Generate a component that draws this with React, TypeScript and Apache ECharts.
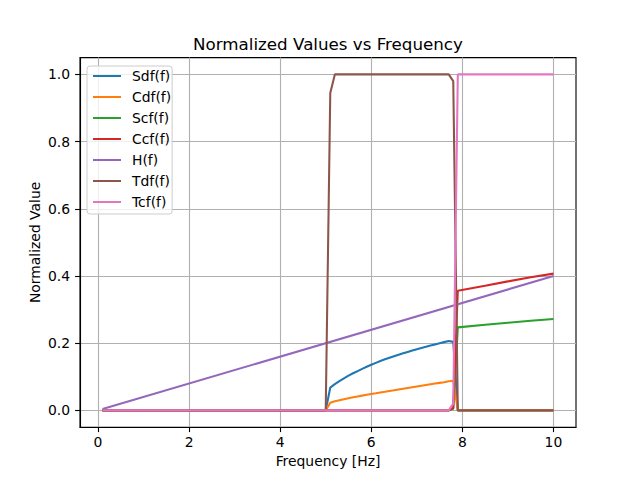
import React, { useEffect, useRef } from "react";
import * as echarts from "echarts";

const FONT = "DejaVu Sans";

const xTicks = [0, 2, 4, 6, 8, 10];
const yTicks = [0, 0.2, 0.4, 0.6, 0.8, 1.0];

const seriesNames = ["Sdf(f)", "Cdf(f)", "Scf(f)", "Ccf(f)", "H(f)", "Tdf(f)", "Tcf(f)"];
const seriesColors = ["#1f77b4", "#ff7f0e", "#2ca02c", "#d62728", "#9467bd", "#8c564b", "#e377c2"];

// frequencies of the curved part (5.1 .. 7.8 Hz)
const midFreq = [
  5.1, 5.2, 5.3, 5.4, 5.5, 5.6, 5.7, 5.8, 5.9, 6.0, 6.1, 6.2, 6.3, 6.4,
  6.5, 6.6, 6.7, 6.8, 6.9, 7.0, 7.1, 7.2, 7.3, 7.4, 7.5, 7.6, 7.7, 7.8,
];

const sdfFreq = [0.1, 5.0, ...midFreq, 7.9, 10.0];
const sdfVals = [
  0, 0,
  0.068, 0.078, 0.087, 0.0955, 0.1035, 0.1105, 0.117, 0.1235, 0.1298, 0.1358, 0.1415, 0.147, 0.152, 0.1568,
  0.1614, 0.1658, 0.17, 0.174, 0.178, 0.1818, 0.1856, 0.1893, 0.1929, 0.1964, 0.1998, 0.2032, 0.2065, 0.204,
  0, 0,
];

const cdfFreq = [0.1, 5.0, ...midFreq, 7.9, 10.0];
const cdfVals = [
  0, 0,
  0.023, 0.027, 0.03, 0.033, 0.036, 0.039, 0.0415, 0.044, 0.0465, 0.049, 0.0512, 0.0535, 0.0557, 0.058,
  0.06, 0.0623, 0.0646, 0.0668, 0.069, 0.0712, 0.0734, 0.0756, 0.0778, 0.08, 0.082, 0.084, 0.0865, 0.088,
  0, 0,
];

const scfFreq = [0.1, 7.7, 7.8, 7.9, 8.5, 9.0, 9.5, 10.0];
const scfVals = [0, 0, 0.005, 0.247, 0.255, 0.261, 0.267, 0.272];

const ccfFreq = [0.1, 7.7, 7.8, 7.9, 8.5, 9.0, 9.5, 10.0];
const ccfVals = [0, 0, 0.007, 0.356, 0.371, 0.384, 0.396, 0.407];

const hFreq = [0.1, 10.0];
const hVals = [0.004, 0.4];

const tdfFreq = [0.1, 5.0, 5.1, 5.2, 7.7, 7.8, 7.9, 10.0];
const tdfVals = [0, 0, 0.945, 1.0, 1.0, 0.98, 0, 0];

const tcfFreq = [0.1, 7.7, 7.8, 7.9, 10.0];
const tcfVals = [0, 0, 0.02, 1.0, 1.0];

const allFreq = [sdfFreq, cdfFreq, scfFreq, ccfFreq, hFreq, tdfFreq, tcfFreq];
const allVals = [sdfVals, cdfVals, scfVals, ccfVals, hVals, tdfVals, tcfVals];

export default function App() {
  const ref = useRef<HTMLDivElement>(null);

  useEffect(() => {
    const chart = echarts.init(ref.current!, null, { renderer: "svg" });
    const axisFont = { color: "#000", fontSize: 13.9, fontFamily: FONT };
    chart.setOption({
      animation: false,
      backgroundColor: "#ffffff",
      grid: {
        left: 80,
        top: 57.6,
        right: 64,
        bottom: 52.8,
        show: true,
        borderColor: "#000",
        borderWidth: 1.1,
        backgroundColor: "transparent",
        outerBoundsMode: "none",
      },
      graphic: [
        {
          type: "text",
          x: 328,
          y: 44,
          style: {
            text: "Normalized Values vs Frequency",
            fontSize: 16.7,
            fontFamily: FONT,
            fill: "#000",
            textAlign: "center",
            textVerticalAlign: "middle",
          },
        },
      ],
      legend: {
        orient: "vertical",
        left: 87,
        top: 66,
        padding: [3, 1, 5, 5],
        itemWidth: 28,
        itemHeight: 14,
        itemGap: 7,
        borderColor: "#cccccc",
        borderWidth: 1,
        borderRadius: 3,
        backgroundColor: "rgba(255,255,255,0.8)",
        itemStyle: { opacity: 0 },
        textStyle: { color: "#000", fontSize: 13.9, fontFamily: FONT, padding: [0, 0, 0, 6] },
        data: seriesNames,
      },
      xAxis: {
        type: "value",
        min: -0.395,
        max: 10.495,
        name: "Frequency [Hz]",
        nameLocation: "middle",
        nameGap: 27,
        nameMoveOverlap: false,
        nameTextStyle: axisFont,
        axisLine: { show: true, onZero: false, lineStyle: { color: "#000", width: 1.1 } },
        axisTick: { show: true, inside: false, length: 4.9, customValues: xTicks, lineStyle: { color: "#000", width: 1.1 } },
        axisLabel: { ...axisFont, margin: 8, customValues: xTicks, formatter: (v: number) => String(v) },
        splitLine: { show: true, lineStyle: { color: "#b0b0b0", width: 1.1 } },
      },
      yAxis: {
        type: "value",
        min: -0.05,
        max: 1.05,
        name: "Normalized Value",
        nameLocation: "middle",
        nameGap: 38,
        nameMoveOverlap: false,
        nameTextStyle: axisFont,
        axisLine: { show: true, onZero: false, lineStyle: { color: "#000", width: 1.1 } },
        axisTick: { show: true, inside: false, length: 4.9, customValues: yTicks, lineStyle: { color: "#000", width: 1.1 } },
        axisLabel: { ...axisFont, margin: 10, customValues: yTicks, formatter: (v: number) => v.toFixed(1) },
        splitLine: { show: true, lineStyle: { color: "#b0b0b0", width: 1.1 } },
      },
      series: seriesNames.map((name, i) => ({
        name,
        type: "line",
        symbol: "none",
        showSymbol: false,
        color: seriesColors[i],
        lineStyle: { color: seriesColors[i], width: 2.08 },
        data: allFreq[i].map((f, j) => [f, allVals[i][j]]),
      })),
    });
    return () => chart.dispose();
  }, []);

  return (
    <div
      ref={ref}
      style={{ position: "fixed", left: 0, top: 0, width: 640, height: 480, background: "#fff" }}
    />
  );
}
